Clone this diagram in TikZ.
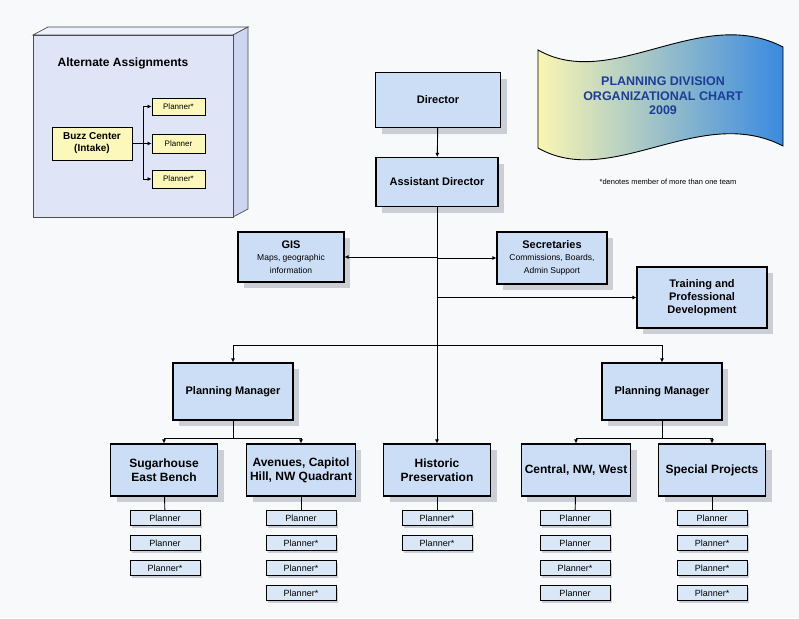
\documentclass[tikz,border=0pt]{standalone}
\usepackage{fontspec}
\setmainfont{Liberation Sans}
\usetikzlibrary{arrows.meta,shadows}

\definecolor{pagegrey}{RGB}{248,249,251}
\definecolor{boxblue}{RGB}{204,222,246}
\definecolor{plannerblue}{RGB}{218,231,247}
\definecolor{shadowgrey}{RGB}{204,206,214}
\definecolor{cubefront}{RGB}{223,229,247}
\definecolor{cubetop}{RGB}{237,241,251}
\definecolor{cubeside}{RGB}{206,213,238}
\definecolor{buzzyellow}{RGB}{252,247,186}
\definecolor{titleblue}{RGB}{28,62,150}
\definecolor{flagyellow}{RGB}{250,246,178}
\definecolor{flagmid}{RGB}{192,215,236}
\definecolor{flagblue}{RGB}{58,138,224}

\newcommand{\subtext}{\mdseries\fontsize{8.5}{10}\selectfont}

\begin{document}
\begin{tikzpicture}[x=1pt, y=-1pt]
    \tikzstyle{every node}=[align = center, font=\bfseries\fontsize{11}{13}\selectfont]
    \tikzstyle{box} = [draw, line width=1.1pt, fill=boxblue, drop shadow={shadow xshift=6pt, shadow yshift=-6pt, fill=shadowgrey, opacity=1}]
    \tikzstyle{unit} = [box, minimum width=107pt, minimum height=52pt, font=\bfseries\fontsize{12}{14}\selectfont]
    \tikzstyle{planner} = [draw, line width=0.9pt, fill=plannerblue, minimum width=70pt, minimum height=15pt, inner sep=0pt, font=\fontsize{9}{10}\selectfont, drop shadow={shadow xshift=2pt, shadow yshift=-2pt, fill=shadowgrey, opacity=1}]
    \tikzstyle{buzzbox} = [draw, line width=0.9pt, fill=buzzyellow, inner sep=0pt]
    \tikzstyle{link} = [line width=0.9pt, -{Latex[length=4pt,width=4pt]}]

    \fill[pagegrey] (0,0) rectangle (799,618);
    \useasboundingbox (0,0) rectangle (799,618);

    \filldraw[fill=cubetop, draw=black!70, line width=0.7pt] (33,35) -- (48,27) -- (248,27) -- (233,35) -- cycle;
    \filldraw[fill=cubeside, draw=black!70, line width=0.7pt] (233,35) -- (248,27) -- (248,209) -- (233,217) -- cycle;
    \filldraw[fill=cubefront, draw=black!70, line width=0.7pt] (33,35) rectangle (233,217);
    \node (alttitle) at (123,63) {\fontsize{12}{14}\selectfont Alternate Assignments};
    \node[buzzbox, minimum width=80pt, minimum height=33pt, font=\bfseries\fontsize{10}{12}\selectfont] (buzz) at (92,143.5) {Buzz Center\\(Intake)};
    \node[buzzbox, minimum width=53pt, minimum height=17pt, font=\fontsize{8}{9}\selectfont] (alt1) at (178.5,106.5) {Planner*};
    \node[buzzbox, minimum width=53pt, minimum height=19pt, font=\fontsize{8}{9}\selectfont] (alt2) at (178.5,143.5) {Planner};
    \node[buzzbox, minimum width=53pt, minimum height=18pt, font=\fontsize{8}{9}\selectfont] (alt3) at (178.5,179) {Planner*};
    \draw[link] (buzz) -- (alt2);
    \draw[link] (buzz.east) -- ++(11,0) |- (alt1);
    \draw[link] (buzz.east) -- ++(11,0) |- (alt3);

    \draw[line width=0.9pt, left color=flagyellow, middle color=flagmid, right color=flagblue]
        (538,50) .. controls (612,92) and (700,4) .. (783,47) -- (783,146)
        .. controls (700,103) and (612,190) .. (538,148) -- cycle;
    \node[text=titleblue, font=\bfseries\fontsize{12.5}{14.5}\selectfont] (charttitle) at (663,96) {PLANNING DIVISION\\ORGANIZATIONAL CHART\\2009};
    \node[font=\fontsize{7.5}{9}\selectfont] (note) at (668,182) {*denotes member of more than one team};

    \node[box, minimum width=125pt, minimum height=55pt] (director) at (438,100) {Director};
    \node[box, minimum width=122pt, minimum height=49pt] (asst) at (437,182) {Assistant Director};
    \node[box, minimum width=106pt, minimum height=50pt] (gis) at (291,257) {GIS\\[-1pt]\subtext Maps, geographic\\\subtext information};
    \node[box, minimum width=110pt, minimum height=52pt] (secr) at (552,258) {Secretaries\\[-1pt]\subtext Commissions, Boards,\\\subtext Admin Support};
    \node[box, minimum width=130pt, minimum height=61pt] (train) at (702,297.5) {Training and\\Professional\\Development};
    \node[box, minimum width=120pt, minimum height=57pt] (pmleft) at (233,391.5) {Planning Manager};
    \node[box, minimum width=120pt, minimum height=57pt] (pmright) at (662,391.5) {Planning Manager};

    \node[unit] (sugar) at (164,470) {Sugarhouse\\East Bench};
    \node[unit] (avenues) at (301,470) {Avenues, Capitol\\Hill, NW Quadrant};
    \node[unit] (historic) at (437,470) {Historic\\Preservation};
    \node[unit] (central) at (576,470) {Central, NW, West};
    \node[unit] (special) at (712,470) {Special Projects};

    \draw[link] (director) -- (asst);
    \draw[link] (asst) -- (historic);
    \draw[link] (asst.south |- gis.east) -- (gis.east);
    \draw[link] (asst.south |- secr.west) -- (secr.west);
    \draw[link] (asst.south |- train.west) -- (train.west);
    \coordinate (mgrbar) at (437,345);
    \draw[link] (mgrbar) -| (pmleft);
    \draw[link] (mgrbar) -| (pmright);
    \draw[link] (pmleft.south) -- ++(0,18) -| (sugar);
    \draw[link] (pmleft.south) -- ++(0,18) -| (avenues);
    \draw[link] (pmright.south) -- ++(0,18) -| (central);
    \draw[link] (pmright.south) -- ++(0,18) -| (special);

    \node[planner] (sugar1) at (165,518) {Planner};
    \node[planner] (sugar2) at (165,543) {Planner};
    \node[planner] (sugar3) at (165,568) {Planner*};
    \node[planner] (avenues1) at (301,518) {Planner};
    \node[planner] (avenues2) at (301,543) {Planner*};
    \node[planner] (avenues3) at (301,568) {Planner*};
    \node[planner] (avenues4) at (301,593) {Planner*};
    \node[planner] (historic1) at (437,518) {Planner*};
    \node[planner] (historic2) at (437,543) {Planner*};
    \node[planner] (central1) at (575,518) {Planner};
    \node[planner] (central2) at (575,543) {Planner};
    \node[planner] (central3) at (575,568) {Planner*};
    \node[planner] (central4) at (575,593) {Planner};
    \node[planner] (special1) at (712,518) {Planner};
    \node[planner] (special2) at (712,543) {Planner*};
    \node[planner] (special3) at (712,568) {Planner*};
    \node[planner] (special4) at (712,593) {Planner*};

    \draw[line width=0.9pt] (sugar) -- (sugar1);
    \draw[line width=0.9pt] (avenues) -- (avenues1);
    \draw[line width=0.9pt] (historic) -- (historic1);
    \draw[line width=0.9pt] (central) -- (central1);
    \draw[line width=0.9pt] (special) -- (special1);
\end{tikzpicture}
\end{document}
